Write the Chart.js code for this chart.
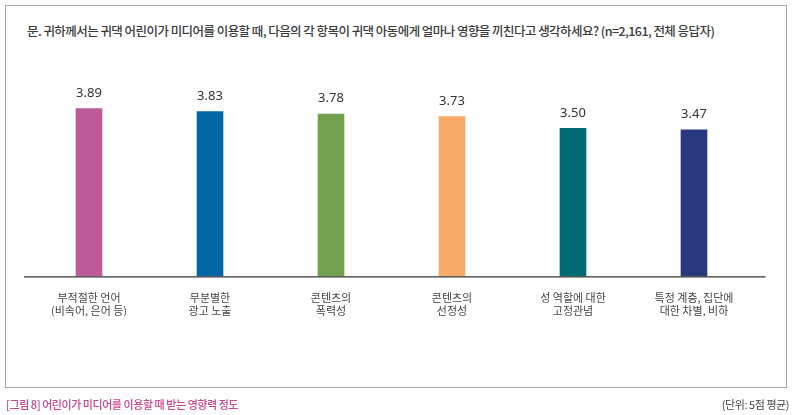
<!DOCTYPE html>
<html>
<head>
<meta charset="utf-8">
<script src="https://cdn.jsdelivr.net/npm/chart.js@4.4.1/dist/chart.umd.min.js"></script>
<style>
  html, body { margin: 0; padding: 0; background: #fff; }
  body { width: 793px; height: 415px; position: relative; overflow: hidden;
         font-family: "Noto Sans CJK KR", "Noto Sans", sans-serif; }
  .frame { position: absolute; left: 5px; top: 5px; width: 782px; height: 383px;
           border: 1px solid #a8a8a8; box-sizing: border-box; }
  .title { position: absolute; left: 27px; top: 21px; font-size: 12.5px; color: #3a3a3a;
           font-weight: 500; letter-spacing: -0.55px; white-space: nowrap; }
  .caption { position: absolute; left: 6px; top: 396px; font-size: 11px; color: #c8468c;
             font-weight: 500; letter-spacing: -0.45px; white-space: nowrap; }
  .unit { position: absolute; right: 4px; top: 396px; font-size: 11px; color: #444;
          letter-spacing: -0.45px; white-space: nowrap; }
  #chart { position: absolute; left: 0; top: 0; }
</style>
</head>
<body>
<div class="frame"></div>
<div class="title">문. 귀하께서는 귀댁 어린이가 미디어를 이용할 때, 다음의 각 항목이 귀댁 아동에게 얼마나 영향을 끼친다고 생각하세요? (n=2,161, 전체 응답자)</div>
<canvas id="chart" width="793" height="415"></canvas>
<div class="caption">[그림 8] 어린이가 미디어를 이용할 때 받는 영향력 정도</div>
<div class="unit">(단위: 5점 평균)</div>
<script>
// categories (two lines each)
var categories = [
  ['부적절한 언어', '(비속어, 은어 등)'],
  ['무분별한', '광고 노출'],
  ['콘텐츠의', '폭력성'],
  ['콘텐츠의', '선정성'],
  ['성 역할에 대한', '고정관념'],
  ['특정 계층, 집단에', '대한 차별, 비하']
];
var scores = [3.89, 3.83, 3.78, 3.73, 3.50, 3.47];
var barColors = ['#bd5b98', '#0066a6', '#72a24f', '#f6aa66', '#006b74', '#28387f'];

// value labels above bars + baseline
var valueLabels = {
  id: 'valueLabels',
  afterDatasetsDraw: function (chart) {
    var ctx = chart.ctx;
    var meta = chart.getDatasetMeta(0);
    ctx.save();
    ctx.font = '13px "Noto Sans", sans-serif';
    ctx.fillStyle = '#333';
    ctx.textAlign = 'center';
    ctx.textBaseline = 'bottom';
    meta.data.forEach(function (bar, i) {
      ctx.fillText(scores[i].toFixed(2), bar.x, bar.y - 9);
    });
    var area = chart.chartArea;
    ctx.strokeStyle = '#333';
    ctx.lineWidth = 1.3;
    ctx.beginPath();
    ctx.moveTo(area.left - 4.5, area.bottom + 0.5);
    ctx.lineTo(area.right + 11, area.bottom + 0.5);
    ctx.stroke();
    ctx.restore();
  }
};

var ctx = document.getElementById('chart').getContext('2d');
var chart = new Chart(ctx, {
  type: 'bar',
  data: {
    labels: categories,
    datasets: [{
      data: scores,
      backgroundColor: barColors,
      borderWidth: 0,
      barThickness: 26
    }]
  },
  options: {
    responsive: false,
    animation: false,
    layout: {
      padding: { left: 28.5, right: 38.5, top: 102.9, bottom: 98.7 }
    },
    plugins: {
      legend: { display: false },
      tooltip: { enabled: false }
    },
    scales: {
      x: {
        grid: { display: false },
        border: { display: false },
        ticks: {
          padding: 7,
          color: '#444',
          font: { family: '"Noto Sans CJK KR", sans-serif', size: 11, lineHeight: 1.2 },
          maxRotation: 0,
          autoSkip: false
        },
        afterFit: function (scale) { scale.height = 40; }
      },
      y: {
        display: false,
        min: 0.6,
        max: 4.0
      }
    }
  },
  plugins: [valueLabels]
});
</script>
</body>
</html>
